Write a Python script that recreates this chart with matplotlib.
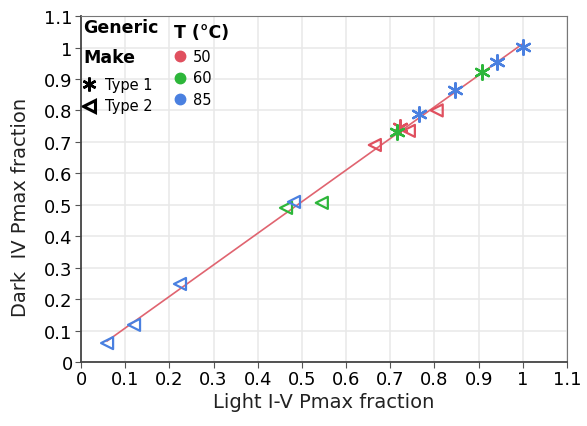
import numpy as np
from matplotlib import pyplot as plt

# ---- data ----
temps = [50, 60, 85]
colors = {50: "#e0505f", 60: "#2db63a", 85: "#4a80e0"}
types = ["Type 1", "Type 2"]

# Type 1 (asterisk)
t1_x = [0.722, 0.715, 0.907, 0.765, 0.846, 0.941, 1.000]
t1_y = [0.747, 0.731, 0.922, 0.790, 0.865, 0.954, 1.003]
t1_T = [50, 60, 60, 85, 85, 85, 85]

# Type 2 (left triangle)
t2_x = [0.665, 0.742, 0.805, 0.464, 0.545, 0.059, 0.120, 0.224, 0.482]
t2_y = [0.690, 0.735, 0.800, 0.490, 0.506, 0.060, 0.118, 0.248, 0.509]
t2_T = [50, 50, 50, 60, 60, 85, 85, 85, 85]

ticks = np.round(np.arange(0, 1.11, 0.1), 1)
asterisk = (6, 2, 0)

fig = plt.figure(figsize=(5.87, 4.27), dpi=100)
ax = fig.add_axes([0.138, 0.15, 0.828, 0.81])

# fit line through all points
allx = np.array(t1_x + t2_x)
ally = np.array(t1_y + t2_y)
p = np.polyfit(allx, ally, 1)
xl = np.array([allx.min(), allx.max()])
ax.plot(xl, np.polyval(p, xl), color="#e06470", lw=1.2, zorder=2)

for x, y, T in zip(t2_x, t2_y, t2_T):
    ax.scatter(x, y, marker="<", s=75, facecolors="none", edgecolors=colors[T], linewidths=1.6, zorder=3)
for x, y, T in zip(t1_x, t1_y, t1_T):
    ax.scatter(x, y, marker=asterisk, s=110, color=colors[T], linewidths=1.7, zorder=3)

ax.set_xlim(0, 1.1)
ax.set_ylim(0, 1.1)
ax.set_xticks(ticks)
ax.set_yticks(ticks)
ax.set_xticklabels(["%g" % t for t in ticks])
ax.set_yticklabels(["%g" % t for t in ticks])
ax.tick_params(labelsize=13, direction="out", length=4, color="#555555", pad=2)
ax.grid(True, color="#e8e8e8", lw=1.1)
ax.set_axisbelow(True)
for s in ax.spines.values():
    s.set_color("#777777")
    s.set_linewidth(0.8)
ax.spines["left"].set_color("#444444")
ax.spines["bottom"].set_color("#444444")
ax.spines["left"].set_linewidth(1.3)
ax.spines["bottom"].set_linewidth(1.3)
ax.set_xlabel("Light I-V Pmax fraction", fontsize=14, color="#222222", labelpad=3)
ax.set_ylabel("Dark  IV Pmax fraction", fontsize=14, color="#222222")
ax.yaxis.set_label_coords(-0.105, 0.45)

# legend, drawn in axes coordinates
tr = ax.transAxes
ax.text(0.004, 0.968, "Generic", transform=tr, fontsize=12.5, weight="bold", va="center")
ax.text(0.004, 0.882, "Make", transform=tr, fontsize=12.5, weight="bold", va="center")
for i, (lab, mk) in enumerate(zip(types, [asterisk, "<"])):
    yy = 0.803 - i * 0.062
    if mk == "<":
        ax.plot(0.016, yy, marker=mk, ls="none", color="black", mfc="none", ms=8, mew=2.2,
                transform=tr, clip_on=False)
    else:
        ax.plot(0.016, yy, marker=mk, ls="none", color="black", ms=10, mew=1.8,
                transform=tr, clip_on=False)
    ax.text(0.049, yy, lab, transform=tr, fontsize=10.5, va="center")

ax.text(0.191, 0.954, "T (°C)", transform=tr, fontsize=12.5, weight="bold", va="center")
for i, T in enumerate(temps):
    yy = 0.884 - i * 0.062
    ax.plot(0.204, yy, marker="o", ls="none", color=colors[T], ms=7.5, transform=tr)
    ax.text(0.230, yy, str(T), transform=tr, fontsize=10.5, va="center")

fig.savefig("out.png", dpi=100)
